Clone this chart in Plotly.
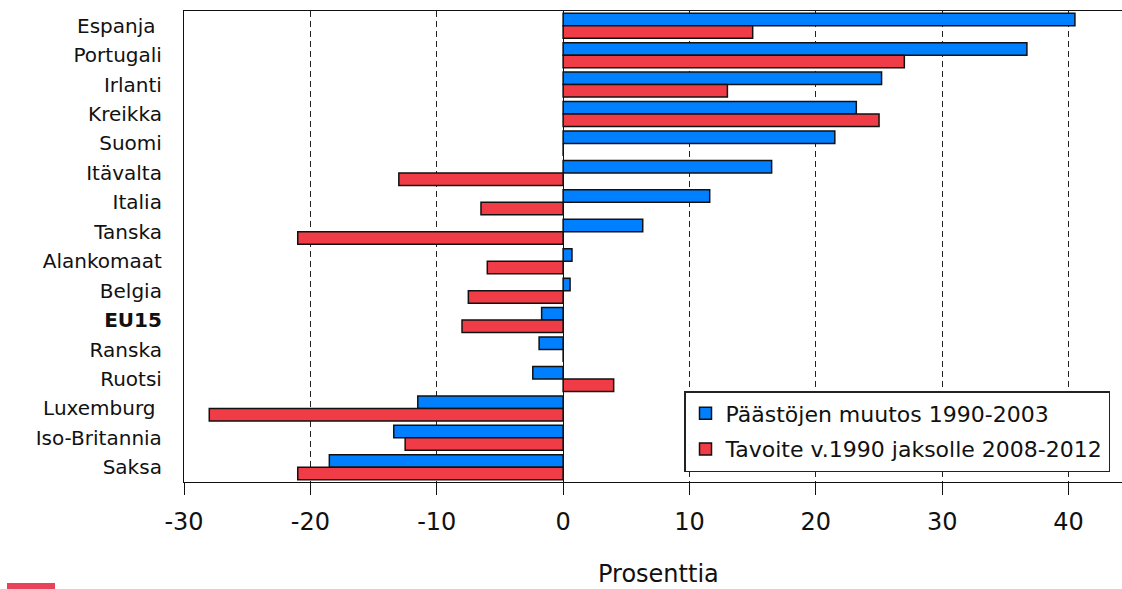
import plotly.graph_objects as go

countries = ["Espanja\u00a0", "Portugali", "Irlanti", "Kreikka", "Suomi", "Itävalta",
             "Italia", "Tanska", "Alankomaat", "Belgia", "<b>EU15</b>", "Ranska",
             "Ruotsi", "Luxemburg\u00a0", "Iso-Britannia", "Saksa"]
change_1990_2003 = [40.5, 36.7, 25.2, 23.2, 21.5, 16.5, 11.6, 6.3, 0.7, 0.55,
                    -1.7, -1.9, -2.4, -11.5, -13.4, -18.5]
target_2008_2012 = [15.0, 27.0, 13.0, 25.0, 0.0, -13.0, -6.5, -21.0, -6.0, -7.5,
                    -8.0, 0.0, 4.0, -28.0, -12.5, -21.0]
series_names = ["Päästöjen muutos 1990-2003", "Tavoite v.1990 jaksolle 2008-2012"]
x_ticks = [-30, -20, -10, 0, 10, 20, 30, 40]

FONT = "DejaVu Sans"

fig = go.Figure()
fig.add_trace(go.Bar(
    y=countries, x=change_1990_2003, orientation="h", name=series_names[0],
    marker=dict(color="#0080ff", line=dict(color="#111111", width=1.5)),
    legendgroup="a",
))
fig.add_trace(go.Bar(
    y=countries, x=target_2008_2012, orientation="h", name=series_names[1],
    marker=dict(color="#f03c46", line=dict(color="#111111", width=1.5)),
    legendgroup="b",
))

W, H = 1122, 589
L, R, T, B = 184, 0, 11, 107
pw = W - L - R
ph = H - T - B

fig.update_layout(
    width=W, height=H,
    margin=dict(l=L, r=R, t=T, b=B, pad=0),
    paper_bgcolor="white", plot_bgcolor="white",
    barmode="group", bargap=0.15, bargroupgap=0.0,
    font=dict(family=FONT, color="#111111"),
    legend=dict(
        x=(684 - L) / pw, y=(482 - 391) / ph, xanchor="left", yanchor="top",
        bordercolor="#222222", borderwidth=1.5, bgcolor="white",
        font=dict(size=22, family=FONT, color="#111111"),
        tracegroupgap=4, traceorder="grouped",
    ),
    xaxis=dict(
        range=[-30, (W - 563) / 12.64],
        tickvals=x_ticks, ticktext=[str(v) for v in x_ticks],
        ticks="outside", ticklen=12, tickwidth=1, tickcolor="#111111",
        tickfont=dict(size=24, family=FONT, color="#111111"),
        ticklabelstandoff=6,
        showline=True, linecolor="#111111", linewidth=1.2, mirror=True,
        showgrid=True, gridcolor="#222222", gridwidth=1, griddash="6px,4px",
        zeroline=True, zerolinecolor="#111111", zerolinewidth=1.2,
    ),
    yaxis=dict(
        categoryorder="array", categoryarray=countries, autorange="reversed",
        ticks="", showgrid=False, zeroline=False,
        showline=True, linecolor="#111111", linewidth=1.2,
        tickfont=dict(size=20, family=FONT, color="#111111"),
        ticklabelstandoff=17,
    ),
    annotations=[dict(
        text="Prosenttia", xref="paper", yref="paper",
        x=(658 - L) / pw, y=(482 - 574) / ph, xanchor="center", yanchor="middle",
        showarrow=False, font=dict(size=24, family=FONT, color="#111111"),
    )],
    shapes=[dict(
        type="rect", xref="paper", yref="paper",
        x0=(7 - L) / pw, x1=(55 - L) / pw,
        y0=(482 - 583) / ph, y1=(482 - 592) / ph,
        fillcolor="#e8435a", line=dict(width=0), layer="above",
    )],
)

fig.write_html(
    "out.html",
    config={"displayModeBar": False},
    post_script="document.body.style.margin='0';document.body.style.overflow='hidden';",
)
